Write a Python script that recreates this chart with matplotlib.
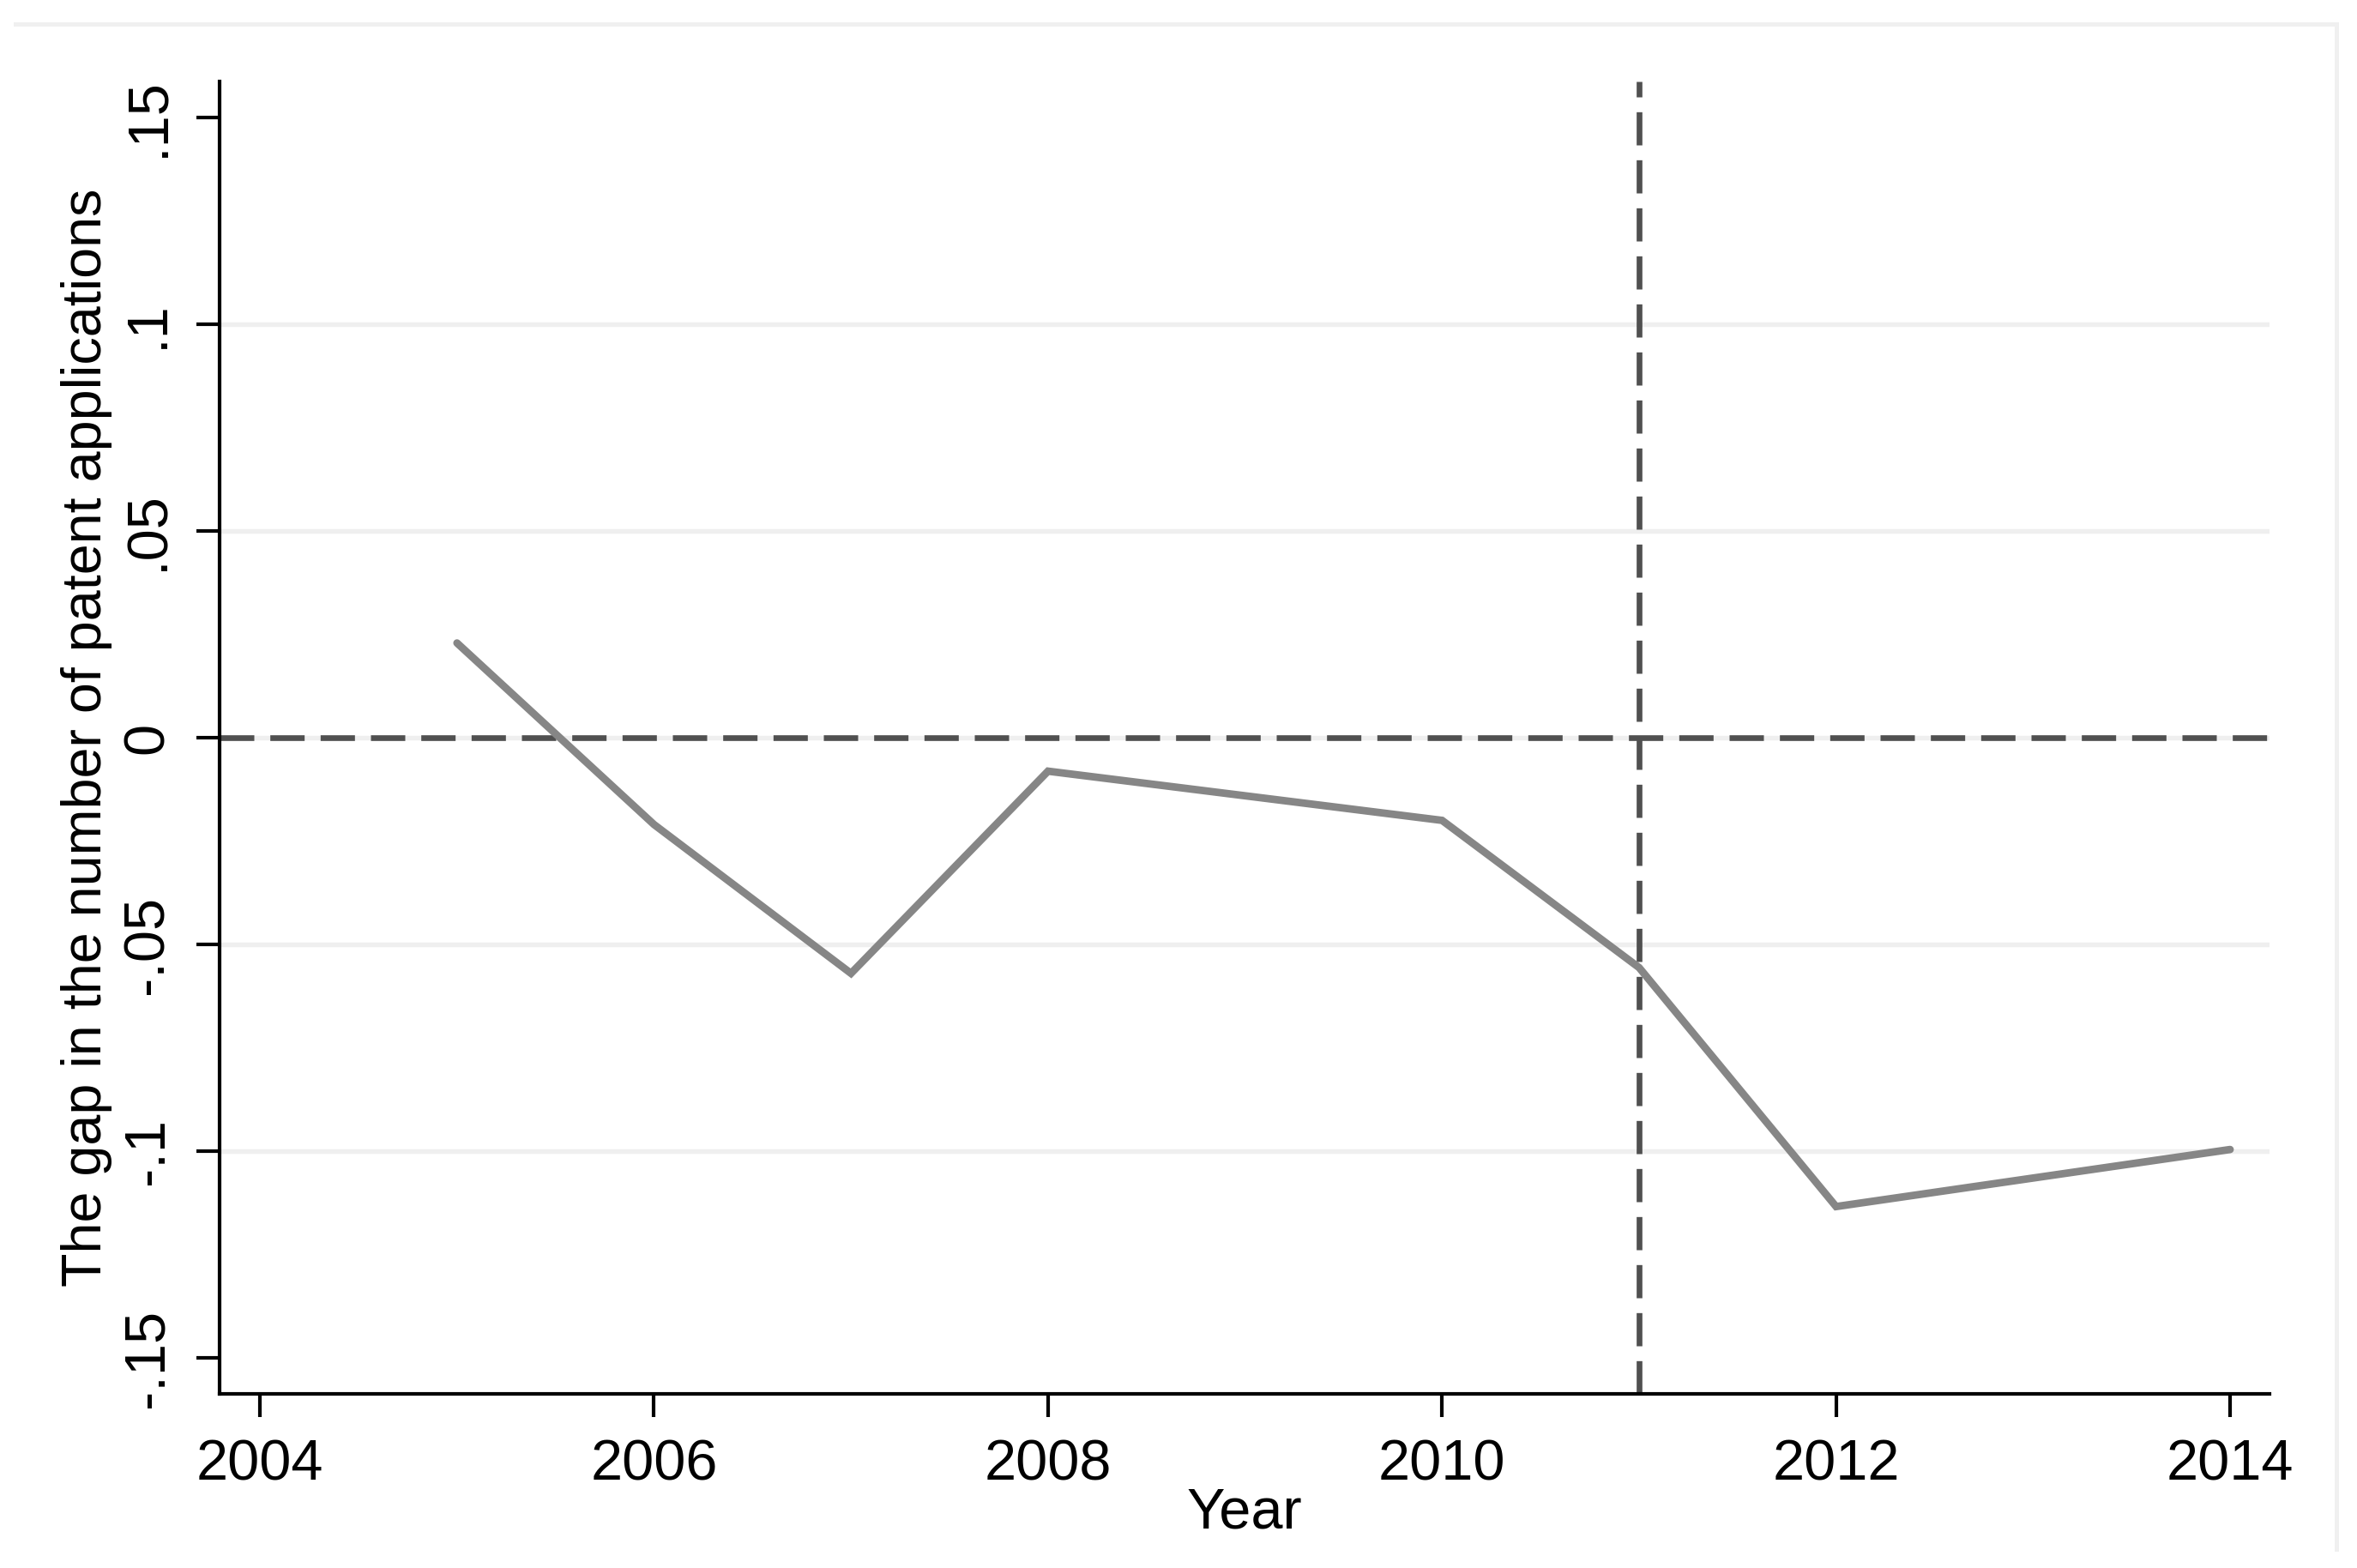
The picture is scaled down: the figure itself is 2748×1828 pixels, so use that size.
import numpy as np
import matplotlib
matplotlib.use("Agg")
import matplotlib.pyplot as plt
from matplotlib.lines import Line2D

plt.rcParams['font.family'] = ['Liberation Sans', 'DejaVu Sans']

# data
years = [2005, 2006, 2007, 2008, 2010, 2011, 2012, 2014]
gap = [0.0229, -0.0210, -0.0570, -0.0081, -0.0200, -0.0556, -0.1134, -0.0996]
treat_year = 2011
x_ticks = [2004, 2006, 2008, 2010, 2012, 2014]
y_ticks = [-0.15, -0.1, -0.05, 0, 0.05, 0.1, 0.15]
y_tick_labels = ['-.15', '-.1', '-.05', '0', '.05', '.1', '.15']
grid_vals = [-0.1, -0.05, 0, 0.05, 0.1]

W, H, dpi = 2748, 1828, 300
fig = plt.figure(figsize=(W / dpi, H / dpi), dpi=dpi)
fig.patch.set_facecolor('white')

# plot area in pixels: left 256, right 2646, top 95, bottom 1625
ax = fig.add_axes([256 / W, 1 - 1625 / H, (2646 - 256) / W, (1625 - 95) / H])

for g in grid_vals:
    ax.axhline(g, color='#efefef', lw=1.3, zorder=0)

ax.axhline(0, color='#505050', lw=1.6, dashes=(6.0, 2.8), zorder=2)
ax.axvline(treat_year, color='#505050', lw=1.6, dashes=(5.8, 2.6), zorder=2)

ax.plot(years, gap, color='#868686', lw=2.1, solid_capstyle='round',
        solid_joinstyle='miter', zorder=3)

ax.set_xlim(2003.795, 2014.2)
ax.set_ylim(-0.1587, 0.1587)
ax.set_xticks(x_ticks)
ax.set_yticks(y_ticks)
ax.set_yticklabels(y_tick_labels, rotation=90, va='center')

for s in ['top', 'right']:
    ax.spines[s].set_visible(False)
for s in ['left', 'bottom']:
    ax.spines[s].set_linewidth(1.0)
    ax.spines[s].set_color('black')

ax.tick_params(axis='both', length=6.5, width=1.0, color='black',
               labelsize=16, pad=6)

ax.set_xlabel('Year', fontsize=16)
ax.set_ylabel('The gap in the number of patent applications', fontsize=15.5)
ax.xaxis.set_label_coords(0.5, -0.071)
ax.yaxis.set_label_coords(-0.0525, 0.5)

# light outer frame (top and right edges)
fig.add_artist(Line2D([18 / W, 2724 / W], [1 - 28 / H, 1 - 28 / H],
                      color='#f0f0f0', lw=1.2, transform=fig.transFigure))
fig.add_artist(Line2D([2724 / W, 2724 / W], [1 - 28 / H, 1 - 1806 / H],
                      color='#f0f0f0', lw=1.2, transform=fig.transFigure))

fig.savefig('out.png', dpi=dpi, facecolor='white')
